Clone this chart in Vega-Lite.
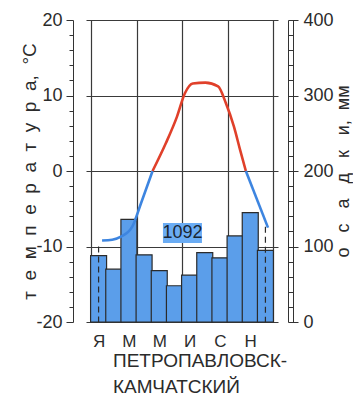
{
  "$schema": "https://vega.github.io/schema/vega-lite/v6.json",
  "width": 192,
  "height": 302,
  "autosize": "none",
  "padding": {"left": 86, "top": 20, "right": 75, "bottom": 78},
  "background": "white",
  "config": {
    "view": {"stroke": null},
    "font": "Liberation Sans",
    "axis": {"labelFont": "Liberation Sans", "titleFont": "Liberation Sans", "labelColor": "#2b2b2b", "titleColor": "#2b2b2b", "titleFontWeight": "normal", "domainColor": "#333333", "tickColor": "#333333"}
  },
  "datasets": {
    "precip": [
      {"m": 1, "p": 88}, {"m": 2, "p": 70}, {"m": 3, "p": 136}, {"m": 4, "p": 89},
      {"m": 5, "p": 68}, {"m": 6, "p": 48}, {"m": 7, "p": 62}, {"m": 8, "p": 92},
      {"m": 9, "p": 85}, {"m": 10, "p": 114}, {"m": 11, "p": 145}, {"m": 12, "p": 95}
    ],
    "dash": [{"m": 1, "p": 100}, {"m": 12, "p": 126}],
    "temp": [
      {"m": 1.23, "t": -9.2, "seg": "a", "sign": "neg"},
      {"m": 1.9, "t": -9.1, "seg": "a", "sign": "neg"},
      {"m": 2.48, "t": -8.7, "seg": "a", "sign": "neg"},
      {"m": 3.21, "t": -7.4, "seg": "a", "sign": "neg"},
      {"m": 3.81, "t": -4.2, "seg": "a", "sign": "neg"},
      {"m": 4.56, "t": 0, "seg": "a", "sign": "neg"},
      {"m": 4.56, "t": 0, "seg": "b", "sign": "pos"},
      {"m": 5.44, "t": 3.7, "seg": "b", "sign": "pos"},
      {"m": 6.17, "t": 7.2, "seg": "b", "sign": "pos"},
      {"m": 6.69, "t": 10.3, "seg": "b", "sign": "pos"},
      {"m": 7.21, "t": 11.6, "seg": "b", "sign": "pos"},
      {"m": 8.04, "t": 11.7, "seg": "b", "sign": "pos"},
      {"m": 8.88, "t": 11.2, "seg": "b", "sign": "pos"},
      {"m": 9.39, "t": 9.0, "seg": "b", "sign": "pos"},
      {"m": 9.92, "t": 5.9, "seg": "b", "sign": "pos"},
      {"m": 10.33, "t": 2.8, "seg": "b", "sign": "pos"},
      {"m": 10.71, "t": 0, "seg": "b", "sign": "pos"},
      {"m": 10.71, "t": 0, "seg": "c", "sign": "neg"},
      {"m": 12.17, "t": -7.5, "seg": "c", "sign": "neg"}
    ],
    "label": [{"m": 6.53, "t": -8.2, "text": "1092"}]
  },
  "title": {
    "text": ["ПЕТРОПАВЛОВСК-", "КАМЧАТСКИЙ"],
    "orient": "bottom",
    "anchor": "start",
    "frame": "group",
    "dx": 27,
    "offset": 3,
    "font": "Liberation Sans",
    "fontSize": 19,
    "fontWeight": "normal",
    "lineHeight": 26,
    "color": "#2b2b2b"
  },
  "encoding": {
    "x": {
      "field": "m",
      "type": "quantitative",
      "scale": {"domain": [0.5, 12.5], "nice": false, "zero": false},
      "axis": {
        "values": [0.5, 1, 3, 3.5, 5, 6.5, 7, 9, 9.5, 11, 12.5],
        "title": null,
        "ticks": false,
        "domain": false,
        "grid": true,
        "gridColor": "#3a3a3a",
        "gridWidth": 1.2,
        "gridOpacity": {"condition": {"test": "datum.value % 3 === 0.5", "value": 1}, "value": 0},
        "labelExpr": "datum.value === 1 ? 'Я' : datum.value === 3 ? 'М' : datum.value === 5 ? 'М' : datum.value === 7 ? 'И' : datum.value === 9 ? 'С' : datum.value === 11 ? 'Н' : ''",
        "labelFontSize": 17,
        "labelPadding": 11,
        "labelOverlap": false,
        "labelFlush": false
      }
    }
  },
  "layer": [
    {
      "data": {"name": "precip"},
      "mark": {"type": "bar", "width": 16, "fill": "#5b9eea", "stroke": "#2b2b2b", "strokeWidth": 1.2},
      "encoding": {
        "y": {
          "field": "p",
          "type": "quantitative",
          "scale": {"domain": [0, 400], "nice": false},
          "axis": {
            "orient": "right",
            "offset": 10,
            "values": [0, 20, 40, 60, 80, 100, 120, 140, 160, 180, 200, 220, 240, 260, 280, 300, 320, 340, 360, 380, 400],
            "tickSize": {"condition": {"test": "datum.value % 100 === 0", "value": 10}, "value": 5},
            "labelExpr": "datum.value % 100 === 0 ? toString(datum.value) : ''",
            "labelFontSize": 18,
            "labelPadding": 5,
            "labelOverlap": false,
            "labelFlush": false,
            "grid": false,
            "title": "о\u00a0\u00a0\u00a0с\u00a0\u00a0\u00a0а\u00a0\u00a0\u00a0д\u00a0\u00a0\u00a0к\u00a0\u00a0\u00a0и,\u00a0\u00a0мм",
            "titleFontSize": 18,
            "titleAngle": 270,
            "titleBaseline": "alphabetic",
            "titlePadding": 15
          }
        }
      }
    },
    {
      "data": {"name": "dash"},
      "mark": {"type": "rule", "strokeDash": [6, 4], "color": "#2b2b2b", "strokeWidth": 1.2},
      "encoding": {
        "y": {
          "field": "p",
          "type": "quantitative",
          "scale": {"domain": [0, 400], "nice": false},
          "axis": {"orient": "right", "offset": 15, "ticks": false, "labels": false, "grid": false, "title": null, "domain": true}
        },
        "y2": {"datum": 0}
      }
    },
    {
      "data": {"name": "temp"},
      "mark": {"type": "line", "interpolate": "monotone", "strokeWidth": 2.6},
      "encoding": {
        "y": {
          "field": "t",
          "type": "quantitative",
          "scale": {"domain": [-20, 20], "nice": false, "zero": false},
          "axis": {
            "orient": "left",
            "offset": 13,
            "values": [-20, -18, -16, -14, -12, -10, -8, -6, -4, -2, 0, 2, 4, 6, 8, 10, 12, 14, 16, 18, 20],
            "grid": true,
            "gridColor": "#3a3a3a",
            "gridWidth": 1.2,
            "gridOpacity": {"condition": {"test": "datum.value % 10 === 0", "value": 1}, "value": 0},
            "tickSize": {"condition": {"test": "datum.value % 10 === 0", "value": 7}, "value": 4},
            "labelExpr": "datum.value % 10 === 0 ? toString(datum.value) : ''",
            "labelFontSize": 18,
            "labelPadding": 4,
            "labelOverlap": false,
            "labelFlush": false,
            "title": "т\u00a0\u00a0е\u00a0\u00a0м\u00a0\u00a0п\u00a0\u00a0е\u00a0\u00a0р\u00a0\u00a0а\u00a0\u00a0т\u00a0\u00a0у\u00a0\u00a0р\u00a0\u00a0а,\u00a0\u00a0°С",
            "titleFontSize": 19,
            "titleBaseline": "alphabetic",
            "titlePadding": 0
          }
        },
        "color": {"field": "sign", "type": "nominal", "scale": {"domain": ["neg", "pos"], "range": ["#3d85e0", "#e0402a"]}, "legend": null},
        "detail": {"field": "seg", "type": "nominal"}
      }
    },
    {
      "data": {"name": "label"},
      "mark": {"type": "point", "shape": "M-1,-0.513L1,-0.513L1,0.513L-1,0.513Z", "size": 1521, "filled": true, "fill": "#6aacf4", "opacity": 1, "strokeWidth": 0},
      "encoding": {
        "y": {"field": "t", "type": "quantitative", "scale": {"domain": [-20, 20], "nice": false, "zero": false}, "axis": null}
      }
    },
    {
      "data": {"name": "label"},
      "mark": {"type": "text", "fontSize": 18, "color": "#1a2633", "font": "Liberation Sans"},
      "encoding": {
        "y": {"field": "t", "type": "quantitative", "scale": {"domain": [-20, 20], "nice": false, "zero": false}, "axis": null},
        "text": {"field": "text"}
      }
    }
  ],
  "resolve": {"scale": {"y": "independent"}}
}
